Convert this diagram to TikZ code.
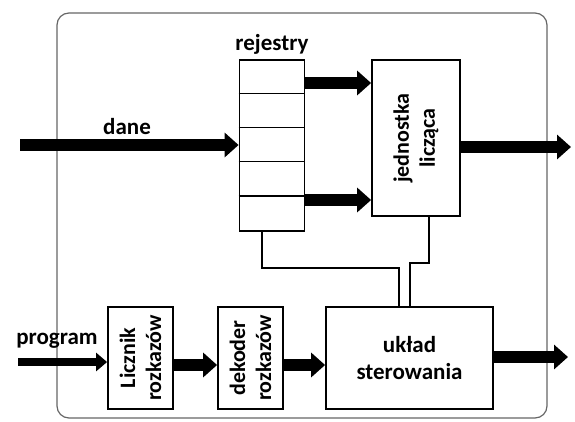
\documentclass[tikz,border=0pt]{standalone}
\usepackage{fontspec}
\setmainfont{Carlito}
\usetikzlibrary{positioning,arrows.meta,calc}

\begin{document}
\begin{tikzpicture}[x=1pt, y=-1pt,
  box/.style={draw, line width=1.8pt, fill=white, inner sep=0pt},
  bus/.style={line width=12pt, -{Triangle[width=24pt,length=14pt]}},
  thinbus/.style={line width=8pt, -{Triangle[width=18pt,length=11pt]}},
  wire/.style={line width=1.2pt},
  txt/.style={font=\fontsize{23}{27}\selectfont\bfseries, align=center},
  vtxt/.style={font=\fontsize{22}{26}\selectfont\bfseries, align=center, rotate=90},
]
\useasboundingbox (0,0) rectangle (575,421);
% frame of the processor
\draw[line width=1.2pt, black!60, rounded corners=12pt] (57,13) rectangle (547,418);

% upper part
\node[box, minimum width=65pt, minimum height=171pt] (reg) at (272,145.5) {};
\foreach \i in {1,...,4}
  \draw[line width=1.5pt] ($(reg.north west)+(0,\i*34.2)$) -- ++(65,0);
\node[txt] (reglbl) at (272,44) {rejestry};
\node[box, minimum width=88pt, minimum height=156pt,
  label={[vtxt]center:jednostka\\licząca}] (alu) at (416,138) {};

% lower part
\node[box, minimum width=65pt, minimum height=102pt,
  label={[vtxt]center:Licznik\\rozkazów}] (pc) at (140.5,358) {};
\node[box, minimum width=65pt, minimum height=102pt,
  label={[vtxt]center:dekoder\\rozkazów}] (dec) at (250.5,358) {};
\node[box, minimum width=167pt, minimum height=102pt, txt] (cu) at (409.5,358) {układ\\sterowania};

% free ends
\coordinate (din) at (20,145);
\coordinate (dout) at (571,147);
\coordinate (pin) at (18,362);
\coordinate (cout) at (568,357);
\coordinate (up) at (0,83);
\coordinate (lo) at (0,200);
\coordinate (mid) at (0,365);

% buses
\draw[bus] (din) -- (reg.west |- din);
\node[txt] (danelbl) at (127,127) {dane};
\draw[bus] (reg.east |- up) -- (alu.west |- up);
\draw[bus] (reg.east |- lo) -- (alu.west |- lo);
\draw[bus] (alu.east |- dout) -- (dout);
\draw[thinbus] (pin) -- (pc.west |- pin);
\node[txt] (proglbl) at (57,341) {program};
\draw[bus] (pc.east |- mid) -- (dec.west |- mid);
\draw[bus] (dec.east |- mid) -- (cu.west |- mid);
\draw[bus] (cu.east |- cout) -- (cout);

% control lines
\draw[wire] (reg.south -| 262,0) |- (399,268) -- (cu.north -| 399,0);
\draw[wire] (alu.south -| 429,0) |- (410,263) -- (cu.north -| 410,0);
\end{tikzpicture}
\end{document}
